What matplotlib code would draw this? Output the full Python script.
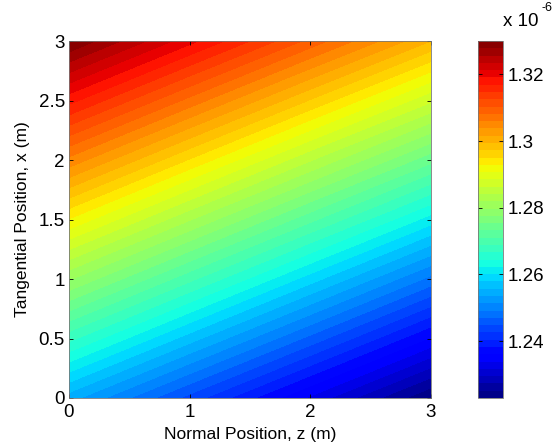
import numpy as np
import matplotlib
matplotlib.use("Agg")
import matplotlib.pyplot as plt

plt.rcParams['font.family'] = ['Liberation Sans', 'DejaVu Sans']

# grid positions (m)
z_pos = [0, 1, 2, 3]
x_pos = [0, 0.5, 1.0, 1.5, 2.0, 2.5, 3.0]

# field values (x 1e-6) read along x for each z column
val_z0 = [1.2545, 1.2673, 1.2800, 1.2927, 1.3053, 1.3177, 1.3300]
val_z1 = [1.2439, 1.2567, 1.2694, 1.2821, 1.2948, 1.3074, 1.3198]
val_z2 = [1.2334, 1.2462, 1.2589, 1.2716, 1.2843, 1.2970, 1.3096]
val_z3 = [1.2229, 1.2357, 1.2484, 1.2612, 1.2739, 1.2867, 1.2994]

cbar_ticks = [1.24, 1.26, 1.28, 1.30, 1.32]
cbar_labels = ['1.24', '1.26', '1.28', '1.3', '1.32']

Z, X = np.meshgrid(z_pos, x_pos)
F = np.column_stack([val_z0, val_z1, val_z2, val_z3])

fig = plt.figure(figsize=(5.57, 4.48), dpi=100)
ax = fig.add_axes([69 / 557, 1 - 398 / 448, 362 / 557, 357 / 448])
cax = fig.add_axes([478 / 557, 1 - 398 / 448, 25 / 557, 357 / 448])

levels = np.linspace(F.min(), F.max(), 50)
cs = ax.contourf(Z, X, F, levels=levels, cmap='jet')

ax.set_xlim(0, 3)
ax.set_ylim(0, 3)
ax.set_xticks([0, 1, 2, 3])
ax.set_yticks([0, 0.5, 1, 1.5, 2, 2.5, 3])
ax.set_yticklabels(['0', '0.5', '1', '1.5', '2', '2.5', '3'])
ax.tick_params(direction='in', top=True, right=True, labelsize=13.5, length=3, width=0.6)
ax.tick_params(axis='x', pad=4)
ax.tick_params(axis='y', pad=3)
for s in ax.spines.values():
    s.set_linewidth(0.6)
    s.set_color('#777777')
ax.set_xlabel('Normal Position, z (m)', fontsize=12.5, labelpad=5)
ax.set_ylabel('Tangential Position, x (m)', fontsize=12.5, labelpad=6)

cb = fig.colorbar(cs, cax=cax)
cb.set_ticks(cbar_ticks)
cb.set_ticklabels(cbar_labels)
cax.tick_params(direction='in', left=True, right=True, labelsize=13.5, length=3, width=0.6, pad=3)
cb.outline.set_linewidth(0.6)
cb.outline.set_edgecolor('#777777')
cax.text(1.0, 1.03, 'x 10', transform=cax.transAxes, fontsize=13.5, ha='left', va='bottom')
cax.text(2.55, 1.075, '-6', transform=cax.transAxes, fontsize=9, ha='left', va='bottom')

fig.savefig('out.png', dpi=100)
